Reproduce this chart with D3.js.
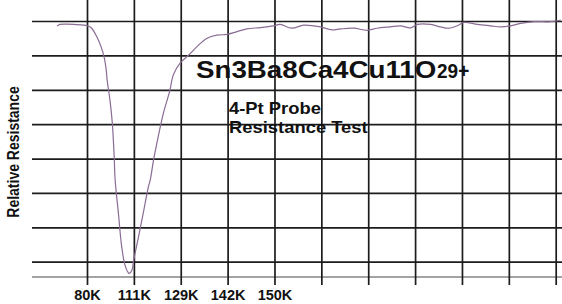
<!DOCTYPE html>
<html>
<head>
<meta charset="utf-8">
<script src="https://cdn.jsdelivr.net/npm/d3@7"></script>
<style>
  body { margin: 0; background: #fff; }
  svg { display: block; }
  text { font-family: Arial, "Liberation Sans", sans-serif; font-weight: bold; fill: #111; }
</style>
</head>
<body>
<div id="chart"></div>
<script>
// x in grid divisions (one division per vertical grid line), y in grid rows
const xDiv = [-0.64, -0.58, -0.43, -0.15, 0.03, 0.10, 0.21, 0.31, 0.37, 0.41, 0.43, 0.49, 0.54, 0.58, 0.60,
  0.67, 0.74, 0.81, 0.88, 0.90, 0.96, 0.99, 1.10, 1.20, 1.31, 1.35, 1.42, 1.52, 1.63, 1.77, 1.84, 1.99,
  2.17, 2.38, 2.56, 2.77, 2.99, 3.20, 3.41, 3.70, 3.98, 4.12, 4.37, 4.62, 4.84, 4.98, 5.23, 5.41, 5.69,
  5.98, 6.19, 6.47, 6.69, 6.90, 7.05, 7.33, 7.54, 7.72, 7.90, 8.04, 8.33, 8.61, 8.83, 9.04, 9.25, 9.54,
  9.89, 10.11];
const relRes = [7.85, 7.90, 7.91, 7.89, 7.85, 7.79, 7.54, 7.21, 6.92, 6.58, 6.28, 5.70, 5.03, 4.05, 3.38,
  2.41, 1.44, 0.90, 0.68, 0.66, 0.76, 1.00, 1.73, 2.41, 3.18, 3.38, 3.96, 4.64, 5.32, 5.99, 6.43, 6.78,
  7.01, 7.30, 7.50, 7.59, 7.61, 7.69, 7.77, 7.81, 7.86, 7.90, 7.79, 7.88, 7.86, 7.83, 7.74, 7.77, 7.79,
  7.73, 7.79, 7.83, 7.86, 7.80, 7.90, 7.90, 7.83, 7.79, 7.86, 7.96, 7.90, 7.86, 7.83, 7.86, 7.93, 7.98,
  7.98, 8.03];

const xTickLabels = ["80K", "111K", "129K", "142K", "150K"];
const xGrid = d3.range(0, 11);
const yGrid = d3.range(1, 9);

const title = "Sn3Ba8Ca4Cu11O";
const titleSup = "29+";
const subtitle = ["4-Pt Probe", "Resistance Test"];
const yLabel = "Relative Resistance";

const width = 562, height = 304;
const frame = { left: 32, right: 562, axisY: 277, tickBottom: 285 };
const stretch = 1.15; // the original picture is a bit wider than tall

const svg = d3.select("#chart").append("svg")
  .attr("width", width)
  .attr("height", height);

svg.append("rect").attr("width", width).attr("height", height).attr("fill", "#fff");

const x = d3.scaleLinear().domain([0, 10]).range([87, 555.7]);
const y = d3.scaleLinear().domain([0, 8]).range([296.1, 21]);

// horizontal grid
svg.append("g")
  .attr("class", "ygrid")
  .attr("transform", `translate(${frame.left},0)`)
  .call(d3.axisLeft(y).tickValues(yGrid).tickSize(-(frame.right - frame.left)).tickFormat(""))
  .call(g => g.select(".domain").remove())
  .call(g => g.selectAll(".tick line").attr("stroke", "#1c1c1c").attr("stroke-width", 1.7));

// gray baseline
svg.append("line")
  .attr("x1", frame.left).attr("x2", frame.right)
  .attr("y1", frame.axisY).attr("y2", frame.axisY)
  .attr("stroke", "#a3a3a3").attr("stroke-width", 2);

// vertical grid + x labels
svg.append("g")
  .attr("class", "xgrid")
  .attr("transform", `translate(0,${frame.tickBottom})`)
  .call(d3.axisBottom(x).tickValues(xGrid).tickSize(-frame.tickBottom).tickPadding(5)
    .tickFormat((d, i) => xTickLabels[i] || ""))
  .call(g => g.select(".domain").remove())
  .call(g => g.selectAll(".tick line").attr("stroke", "#1c1c1c").attr("stroke-width", 1.7))
  .call(g => g.selectAll(".tick text")
    .attr("font-size", 14.5)
    .attr("font-family", "Arial, 'Liberation Sans', sans-serif")
    .attr("font-weight", "bold")
    .attr("fill", "#111"));

// curve
const line = d3.line()
  .x((d, i) => x(xDiv[i]))
  .y(d => y(d))
  .curve(d3.curveCatmullRom.alpha(0.5));

svg.append("path")
  .datum(relRes)
  .attr("d", line)
  .attr("fill", "none")
  .attr("stroke", "#8a6c94")
  .attr("stroke-width", 1.2);

// title
svg.append("text")
  .attr("transform", "translate(196,78) scale(1.18,1)")
  .attr("font-size", 23.5)
  .text(title);

svg.append("text")
  .attr("transform", "translate(437,78) scale(0.95,1)")
  .attr("font-size", 20)
  .text(titleSup);

svg.selectAll("text.sub")
  .data(subtitle)
  .join("text")
  .attr("class", "sub")
  .attr("transform", (d, i) => `translate(229,${114 + i * 19}) scale(${stretch},1)`)
  .attr("font-size", 16)
  .text(d => d);

// y label
svg.append("text")
  .attr("transform", "translate(18.5,152) rotate(-90) scale(1,1.15)")
  .attr("text-anchor", "middle")
  .attr("font-size", 14)
  .text(yLabel);
</script>
</body>
</html>
